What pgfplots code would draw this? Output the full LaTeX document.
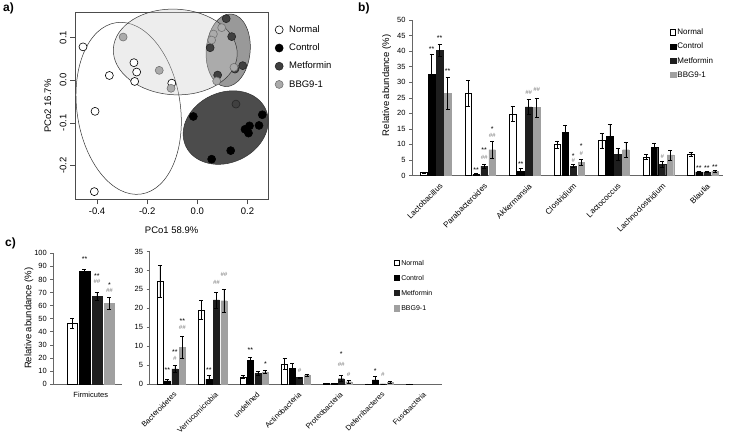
\documentclass[border=0pt]{standalone}
\usepackage{fontspec}
\setmainfont{Liberation Sans}
\usepackage{pgfplots}
\pgfplotsset{compat=1.18}
\usepackage{pgfplotstable}

\definecolor{metc}{HTML}{1E1E1E}
\definecolor{bbgc}{HTML}{A0A0A0}
\definecolor{sigc}{HTML}{7A7A7A}
\definecolor{metpt}{HTML}{404040}
\definecolor{bbgpt}{HTML}{ABABAB}

% panel b: genera  (value, error) for Normal, Control, Metformin, BBG9-1
\pgfplotstableread{
x N Ne C Ce M Me B Be
0 1.0 0.2 32.6 6.5 40.3 2.0 26.4 5.1
1 26.4 4.1 0.4 0.2 3.0 0.7 8.3 2.7
2 19.8 2.4 1.3 1.0 22.1 2.3 21.9 3.1
3 9.9 1.2 13.9 2.4 3.0 0.5 4.3 1.0
4 11.2 2.5 12.5 3.9 6.9 1.9 8.3 2.5
5 6.0 0.8 9.1 1.4 3.6 1.1 6.6 1.6
6 6.8 0.7 1.2 0.2 1.2 0.2 1.4 0.3
}\genustab

% panel c: Firmicutes
\pgfplotstableread{
x N Ne C Ce M Me B Be
0 46.4 3.8 86.0 1.7 67.3 3.0 61.7 4.5
}\firmtab

% panel c: other phyla
\pgfplotstableread{
x N Ne C Ce M Me B Be
0 27.2 4.2 0.8 0.4 4.0 0.9 9.7 2.8
1 19.5 2.5 1.3 1.0 22.2 2.1 22.0 3.1
2 1.9 0.35 6.2 0.9 2.8 0.5 3.2 0.4
3 5.3 1.5 4.2 1.3 1.7 0.2 2.4 0.3
4 0.1 0.0 0.1 0.0 1.4 0.8 0.6 0.3
5 0.05 0.0 1.1 1.0 0.05 0.0 0.45 0.25
6 0.05 0.0 nan nan nan nan nan nan
}\phylatab

\newcommand{\st}[3]{\node[font=\fontsize{7}{7}\selectfont, inner sep=0pt, xshift=#3pt, yshift=-1.5pt] at (axis cs:#1,#2) {**};}
\newcommand{\so}[3]{\node[font=\fontsize{7}{7}\selectfont, inner sep=0pt, xshift=#3pt, yshift=-1.5pt] at (axis cs:#1,#2) {*};}
\newcommand{\hh}[3]{\node[font=\itshape\fontsize{6}{6}\selectfont, text=sigc, inner sep=0pt, xshift=#3pt] at (axis cs:#1,#2) {\#\#};}
\newcommand{\ho}[3]{\node[font=\itshape\fontsize{6}{6}\selectfont, text=sigc, inner sep=0pt, xshift=#3pt] at (axis cs:#1,#2) {\#};}

\pgfplotsset{
  barerr/.style={error bars/.cd, y dir=both, y explicit,
    error bar style={black, line width=0.5pt},
    error mark options={rotate=90, mark size=2pt, black, line width=0.5pt}},
  sqlegend/.style={legend image code/.code={\draw[##1] (0pt,-2.6pt) rectangle (5.2pt,2.6pt);}},
}

\begin{document}
\begin{tikzpicture}
\path[use as bounding box] (0pt,0pt) rectangle (730pt,-437pt);

% panel labels
\node[anchor=north west, inner sep=0pt, font=\bfseries\fontsize{12}{12}\selectfont] at (3pt,-3pt) {a)};
\node[anchor=north west, inner sep=0pt, font=\bfseries\fontsize{12}{12}\selectfont] at (358pt,-3pt) {b)};
\node[anchor=north west, inner sep=0pt, font=\bfseries\fontsize{12}{12}\selectfont] at (5pt,-238pt) {c)};

% ---------------- panel a: PCoA ----------------
\begin{axis}[
  at={(75pt,-199.3pt)}, anchor=south west,
  scale only axis, width=193.3pt, height=186.6pt,
  xmin=-0.488, xmax=0.283, ymin=-0.279, ymax=0.158,
  clip=false,
  axis line style={black!70, line width=0.6pt},
  tick pos=left, tick align=outside, major tick length=5pt,
  tick style={black!70, line width=0.6pt},
  xtick={-0.4,-0.2,0,0.2}, xticklabels={-0.4,-0.2,0.0,0.2},
  ytick={-0.2,-0.1,0,0.1}, yticklabels={-0.2,-0.1,0.0,0.1},
  yticklabel style={rotate=90, anchor=south},
  ticklabel style={font=\fontsize{9.5}{11}\selectfont},
  xlabel={PCo1 58.9\%}, ylabel={PCo2 16.7\%},
  label style={font=\fontsize{9.5}{11}\selectfont},
  xlabel style={at={(axis description cs:0.5,-0.165)}, anchor=center},
  ylabel style={at={(axis description cs:-0.14,0.5)}, anchor=center},
  legend style={at={(1.019,0.95)}, anchor=north west, draw=none, fill=none,
    font=\fontsize{9.5}{11}\selectfont, row sep=7pt,
    nodes={inner sep=1pt, text height=0.72em, text depth=0.2em},
    /tikz/every odd column/.append style={column sep=5pt}},
  legend cell align=left,
  legend image code/.code={\draw[#1] plot coordinates {(4.5pt,0pt)};},
]
% confidence ellipses
\draw[black!80, line width=0.5pt, fill=white]
  [rotate around={8.3:(axis cs:-0.274,-0.066)}] (axis cs:-0.274,-0.066) ellipse [x radius=51.7pt, y radius=86.6pt];
\draw[black!80, line width=0.5pt, fill=black, fill opacity=0.7]
  [rotate around={25:(axis cs:0.113,-0.111)}] (axis cs:0.113,-0.111) ellipse [x radius=44pt, y radius=35pt];
\draw[black!80, line width=0.5pt, fill=black!80, fill opacity=0.5]
  [rotate around={-5:(axis cs:0.123,0.070)}] (axis cs:0.123,0.070) ellipse [x radius=22pt, y radius=36.4pt];
\draw[black!80, line width=0.5pt, fill=black!20, fill opacity=0.35]
  [rotate around={-3:(axis cs:-0.088,0.066)}] (axis cs:-0.088,0.066) ellipse [x radius=62pt, y radius=42.8pt];

\addplot[only marks, mark=*, mark size=4pt, mark options={fill=white, draw=black, line width=0.6pt}] coordinates {
(-0.456,0.078) (-0.351,0.011) (-0.253,0.041) (-0.242,0.019) (-0.250,-0.003) (-0.408,-0.073) (-0.411,-0.261) (-0.102,-0.007)};
\addlegendentry{Normal}
\addplot[only marks, mark=*, mark size=4pt, mark options={fill=black, draw=black, line width=0.6pt}] coordinates {
(-0.016,-0.085) (0.057,-0.185) (0.133,-0.165) (0.190,-0.115) (0.208,-0.107) (0.204,-0.124) (0.246,-0.106) (0.259,-0.081)};
\addlegendentry{Control}
\addplot[only marks, mark=*, mark size=4pt, mark options={fill=metpt, draw=black!85, line width=0.6pt}] coordinates {
(0.115,0.144) (0.137,0.102) (0.181,0.034) (0.150,0.026) (0.081,0.012) (0.051,0.076) (0.154,-0.056)};
\addlegendentry{Metformin}
\addplot[only marks, mark=*, mark size=4pt, mark options={fill=bbgpt, draw=black!55, line width=0.6pt}] coordinates {
(-0.296,0.101) (-0.152,0.023) (-0.105,-0.019) (0.097,0.123) (0.064,0.108) (0.057,0.094) (0.146,0.030) (0.077,-0.002)};
\addlegendentry{BBG9-1}
\end{axis}

% ---------------- panel b: genera ----------------
\begin{axis}[
  at={(412pt,-175.5pt)}, anchor=south west,
  scale only axis, width=311pt, height=155.5pt,
  xmin=-0.53, xmax=6.45, ymin=0, ymax=50,
  ybar=1.5pt, bar width=6.5pt,
  clip=false,
  axis lines*=left, axis line style={black!60, line width=0.5pt},
  ytick={0,5,...,50}, tick align=outside, major tick length=3pt,
  ytick style={black!60, line width=0.5pt},
  xtick={0,...,6},
  xticklabels={Lactobacillus,Parabacteroides,Akkermansia,Clostridium,Lactococcus,Lachnoclostridium,Blautia},
  xtick style={draw=none},
  xticklabel style={rotate=45, anchor=north east, font=\fontsize{8}{9}\selectfont, xshift=3pt, yshift=-2pt},
  yticklabel style={font=\fontsize{7.5}{9}\selectfont},
  /pgf/number format/assume math mode=true,
  ylabel={Relative abundance (\%)},
  ylabel style={font=\fontsize{9.5}{11}\selectfont, at={(axis description cs:-0.0814,0.58)}, anchor=center},
  sqlegend,
  legend style={at={(0.82,0.972)}, anchor=north west, draw=none, fill=none,
    font=\fontsize{8}{9}\selectfont, row sep=3pt,
    nodes={inner sep=1pt, text height=0.72em, text depth=0.2em},
    /tikz/every odd column/.append style={column sep=0.5pt}},
  legend cell align=left,
]
\addplot[fill=white, draw=black, line width=0.5pt, barerr] table[x=x, y=N, y error=Ne] {\genustab};
\addlegendentry{Normal}
\addplot[fill=black, draw=black, line width=0.3pt, barerr] table[x=x, y=C, y error=Ce] {\genustab};
\addlegendentry{Control}
\addplot[fill=metc, draw=metc, line width=0.3pt, barerr] table[x=x, y=M, y error=Me] {\genustab};
\addlegendentry{Metformin}
\addplot[fill=bbgc, draw=bbgc, line width=0.3pt, barerr] table[x=x, y=B, y error=Be] {\genustab};
\addlegendentry{BBG9-1}
\st{0}{41.0}{-4} \st{0}{44.6}{4} \st{0}{34.0}{12}
\st{1}{2.2}{-4} \hh{1}{5.9}{4} \st{1}{8.6}{4} \hh{1}{12.9}{12} \so{1}{15.5}{12}
\st{2}{4.1}{-4} \hh{2}{26.7}{4} \hh{2}{27.8}{12}
\ho{3}{4.9}{4} \so{3}{6.7}{4} \ho{3}{7.2}{12} \so{3}{9.9}{12}
\ho{5}{6.1}{4}
\st{6}{3.0}{-4} \st{6}{3.0}{4} \st{6}{3.3}{12}
\end{axis}

% ---------------- panel c: Firmicutes ----------------
\begin{axis}[
  at={(53.3pt,-384pt)}, anchor=south west,
  scale only axis, width=68.4pt, height=130.7pt,
  xmin=-0.547, xmax=0.453, ymin=0, ymax=100,
  ybar=1.95pt, bar width=10.5pt,
  clip=false,
  axis lines*=left, axis line style={black!60, line width=0.5pt},
  ytick={0,10,...,100}, tick align=outside, major tick length=3pt,
  ytick style={black!60, line width=0.5pt},
  xtick={0}, xticklabels={Firmicutes}, xtick style={draw=none},
  xticklabel style={font=\fontsize{7.5}{9}\selectfont, yshift=-2pt},
  yticklabel style={font=\fontsize{7.5}{9}\selectfont},
  /pgf/number format/assume math mode=true,
  ylabel={Relative abundance (\%)},
  ylabel style={font=\fontsize{9.5}{11}\selectfont, at={(axis description cs:-0.355,0.503)}, anchor=center},
]
\addplot[fill=white, draw=black, line width=0.5pt, barerr] table[x=x, y=N, y error=Ne] {\firmtab};
\addplot[fill=black, draw=black, line width=0.3pt, barerr] table[x=x, y=C, y error=Ce] {\firmtab};
\addplot[fill=metc, draw=metc, line width=0.3pt, barerr] table[x=x, y=M, y error=Me] {\firmtab};
\addplot[fill=bbgc, draw=bbgc, line width=0.3pt, barerr] table[x=x, y=B, y error=Be] {\firmtab};
\st{0}{96.5}{-6.2}
\hh{0}{78.3}{6.2} \st{0}{84.0}{6.2}
\hh{0}{71.4}{18.7} \so{0}{77.0}{18.7}
\end{axis}

% ---------------- panel c: other phyla ----------------
\begin{axis}[
  at={(149.5pt,-384pt)}, anchor=south west,
  scale only axis, width=292.2pt, height=132.5pt,
  xmin=-0.517, xmax=6.507, ymin=0, ymax=35,
  ybar=1.5pt, bar width=6pt,
  clip=false,
  axis lines*=left, axis line style={black!60, line width=0.5pt},
  ytick={0,5,...,35}, tick align=outside, major tick length=3pt,
  ytick style={black!60, line width=0.5pt},
  xtick={0,...,6},
  xticklabels={Bacteroidetes,Verrucomicrobia,undefined,Actinobacteria,Proteobacteria,Deferribacteres,Fusobacteria},
  xtick style={draw=none},
  xticklabel style={rotate=45, anchor=north east, font=\fontsize{7.5}{9}\selectfont, xshift=2pt, yshift=-1pt},
  yticklabel style={font=\fontsize{7.5}{9}\selectfont},
  /pgf/number format/assume math mode=true,
  sqlegend,
  legend style={at={(0.826,0.975)}, anchor=north west, draw=none, fill=none,
    font=\fontsize{7}{8}\selectfont, row sep=4pt,
    nodes={inner sep=1pt, text height=0.72em, text depth=0.2em},
    /tikz/every odd column/.append style={column sep=0.5pt}},
  legend cell align=left,
]
\addplot[fill=white, draw=black, line width=0.5pt, barerr] table[x=x, y=N, y error=Ne] {\phylatab};
\addlegendentry{Normal}
\addplot[fill=black, draw=black, line width=0.3pt, barerr] table[x=x, y=C, y error=Ce] {\phylatab};
\addlegendentry{Control}
\addplot[fill=metc, draw=metc, line width=0.3pt, barerr] table[x=x, y=M, y error=Me] {\phylatab};
\addlegendentry{Metformin}
\addplot[fill=bbgc, draw=bbgc, line width=0.3pt, barerr] table[x=x, y=B, y error=Be] {\phylatab};
\addlegendentry{BBG9-1}
\st{0}{4.1}{-3.75} \ho{0}{6.8}{3.75} \st{0}{8.7}{3.75} \hh{0}{15.0}{11.25} \st{0}{16.9}{11.25}
\st{1}{4.1}{-3.75} \hh{1}{26.9}{3.75} \hh{1}{29.0}{11.25}
\st{2}{9.4}{-3.75} \so{2}{5.7}{11.25}
\ho{3}{3.5}{3.75}
\so{4}{8.2}{3.75} \hh{4}{5.2}{3.75} \ho{4}{2.4}{11.25}
\so{5}{3.9}{-3.75} \ho{5}{2.4}{3.75}
\end{axis}
\end{tikzpicture}
\end{document}
